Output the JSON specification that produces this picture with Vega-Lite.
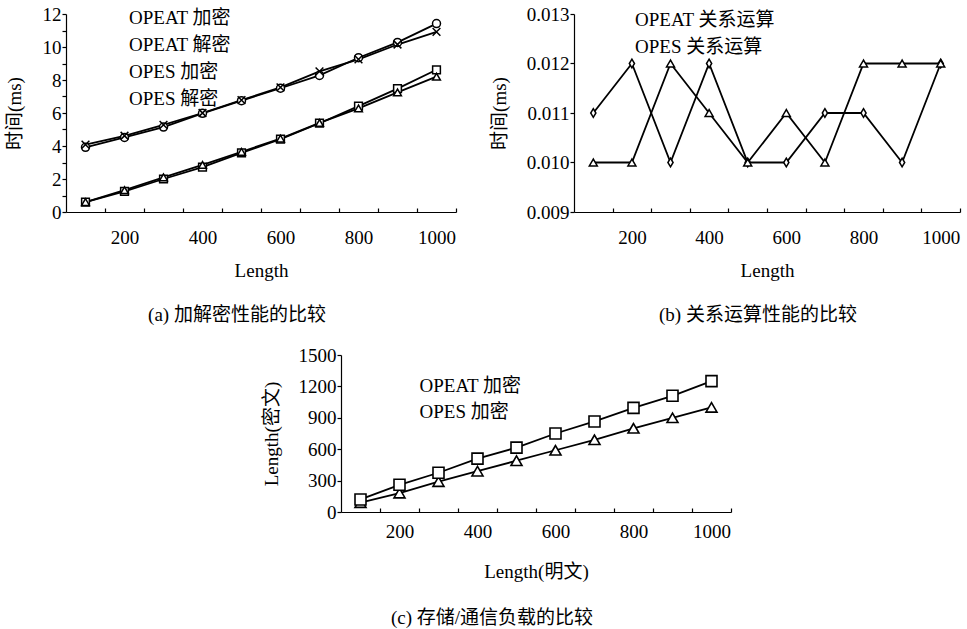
{
  "$schema": "https://vega.github.io/schema/vega-lite/v6.json",
  "padding": 5,
  "background": "white",
  "config": {
    "font": "Liberation Serif, Noto Sans CJK SC",
    "view": {"stroke": null},
    "axis": {
      "grid": false, "domainColor": "black", "tickColor": "black", "labelColor": "black", "titleColor": "black",
      "labelFont": "Liberation Serif, Noto Sans CJK SC", "titleFont": "Liberation Serif, Noto Sans CJK SC",
      "labelFontSize": 19, "titleFontSize": 19, "titleFontWeight": "normal", "domainWidth": 1.2, "tickWidth": 1.2,
      "labelOverlap": false
    },
    "axisY": {"labelOverlap": false},
    "legend": {"labelFont": "Liberation Serif, Noto Sans CJK SC", "labelFontSize": 19, "labelColor": "black", "padding": 0,
      "symbolFillColor": "white", "symbolStrokeColor": "black", "symbolStrokeWidth": 1.5, "symbolOpacity": 1},
    "title": {"font": "Liberation Serif, Noto Sans CJK SC", "fontSize": 19, "fontWeight": "normal", "color": "black", "frame": "group"},
    "point": {"filled": true, "fill": "white", "stroke": "black"}
  },
  "datasets": {
    "a": [
      {"length": 100, "series": "OPEAT 加密", "value": 0.6}, {"length": 200, "series": "OPEAT 加密", "value": 1.25},
      {"length": 300, "series": "OPEAT 加密", "value": 2.0}, {"length": 400, "series": "OPEAT 加密", "value": 2.72},
      {"length": 500, "series": "OPEAT 加密", "value": 3.58}, {"length": 600, "series": "OPEAT 加密", "value": 4.42},
      {"length": 700, "series": "OPEAT 加密", "value": 5.38}, {"length": 800, "series": "OPEAT 加密", "value": 6.42},
      {"length": 900, "series": "OPEAT 加密", "value": 7.48}, {"length": 1000, "series": "OPEAT 加密", "value": 8.62},
      {"length": 100, "series": "OPEAT 解密", "value": 0.6}, {"length": 200, "series": "OPEAT 解密", "value": 1.32},
      {"length": 300, "series": "OPEAT 解密", "value": 2.1}, {"length": 400, "series": "OPEAT 解密", "value": 2.85},
      {"length": 500, "series": "OPEAT 解密", "value": 3.65}, {"length": 600, "series": "OPEAT 解密", "value": 4.45},
      {"length": 700, "series": "OPEAT 解密", "value": 5.4}, {"length": 800, "series": "OPEAT 解密", "value": 6.28},
      {"length": 900, "series": "OPEAT 解密", "value": 7.25}, {"length": 1000, "series": "OPEAT 解密", "value": 8.2},
      {"length": 100, "series": "OPES 加密", "value": 3.92}, {"length": 200, "series": "OPES 加密", "value": 4.52},
      {"length": 300, "series": "OPES 加密", "value": 5.15}, {"length": 400, "series": "OPES 加密", "value": 5.98},
      {"length": 500, "series": "OPES 加密", "value": 6.75}, {"length": 600, "series": "OPES 加密", "value": 7.5},
      {"length": 700, "series": "OPES 加密", "value": 8.28}, {"length": 800, "series": "OPES 加密", "value": 9.35},
      {"length": 900, "series": "OPES 加密", "value": 10.28}, {"length": 1000, "series": "OPES 加密", "value": 11.42},
      {"length": 100, "series": "OPES 解密", "value": 4.08}, {"length": 200, "series": "OPES 解密", "value": 4.62},
      {"length": 300, "series": "OPES 解密", "value": 5.28}, {"length": 400, "series": "OPES 解密", "value": 6.0},
      {"length": 500, "series": "OPES 解密", "value": 6.78}, {"length": 600, "series": "OPES 解密", "value": 7.55},
      {"length": 700, "series": "OPES 解密", "value": 8.52}, {"length": 800, "series": "OPES 解密", "value": 9.25},
      {"length": 900, "series": "OPES 解密", "value": 10.15}, {"length": 1000, "series": "OPES 解密", "value": 10.92}
    ],
    "b": [
      {"length": 100, "series": "OPEAT 关系运算", "value": 0.011}, {"length": 200, "series": "OPEAT 关系运算", "value": 0.012},
      {"length": 300, "series": "OPEAT 关系运算", "value": 0.010}, {"length": 400, "series": "OPEAT 关系运算", "value": 0.012},
      {"length": 500, "series": "OPEAT 关系运算", "value": 0.010}, {"length": 600, "series": "OPEAT 关系运算", "value": 0.010},
      {"length": 700, "series": "OPEAT 关系运算", "value": 0.011}, {"length": 800, "series": "OPEAT 关系运算", "value": 0.011},
      {"length": 900, "series": "OPEAT 关系运算", "value": 0.010}, {"length": 1000, "series": "OPEAT 关系运算", "value": 0.012},
      {"length": 100, "series": "OPES 关系运算", "value": 0.010}, {"length": 200, "series": "OPES 关系运算", "value": 0.010},
      {"length": 300, "series": "OPES 关系运算", "value": 0.012}, {"length": 400, "series": "OPES 关系运算", "value": 0.011},
      {"length": 500, "series": "OPES 关系运算", "value": 0.010}, {"length": 600, "series": "OPES 关系运算", "value": 0.011},
      {"length": 700, "series": "OPES 关系运算", "value": 0.010}, {"length": 800, "series": "OPES 关系运算", "value": 0.012},
      {"length": 900, "series": "OPES 关系运算", "value": 0.012}, {"length": 1000, "series": "OPES 关系运算", "value": 0.012}
    ],
    "c": [
      {"length": 100, "series": "OPEAT 加密", "value": 90}, {"length": 200, "series": "OPEAT 加密", "value": 180},
      {"length": 300, "series": "OPEAT 加密", "value": 290}, {"length": 400, "series": "OPEAT 加密", "value": 390},
      {"length": 500, "series": "OPEAT 加密", "value": 490}, {"length": 600, "series": "OPEAT 加密", "value": 590},
      {"length": 700, "series": "OPEAT 加密", "value": 690}, {"length": 800, "series": "OPEAT 加密", "value": 800},
      {"length": 900, "series": "OPEAT 加密", "value": 900}, {"length": 1000, "series": "OPEAT 加密", "value": 1000},
      {"length": 100, "series": "OPES 加密", "value": 120}, {"length": 200, "series": "OPES 加密", "value": 260},
      {"length": 300, "series": "OPES 加密", "value": 375}, {"length": 400, "series": "OPES 加密", "value": 510},
      {"length": 500, "series": "OPES 加密", "value": 615}, {"length": 600, "series": "OPES 加密", "value": 750},
      {"length": 700, "series": "OPES 加密", "value": 865}, {"length": 800, "series": "OPES 加密", "value": 995},
      {"length": 900, "series": "OPES 加密", "value": 1110}, {"length": 1000, "series": "OPES 加密", "value": 1250}
    ]
  },
  "spacing": 21,
  "resolve": {"scale": {"shape": "independent", "x": "independent", "y": "independent"}, "legend": {"shape": "independent"}},
  "vconcat": [
    {
      "bounds": "flush",
      "spacing": 118,
      "resolve": {"scale": {"shape": "independent", "x": "independent", "y": "independent"}, "legend": {"shape": "independent"}},
      "hconcat": [
        {
          "width": 390, "height": 198,
          "data": {"name": "a"},
          "title": {"text": "(a)  加解密性能的比较", "orient": "bottom", "dx": -24, "offset": 26},
          "encoding": {
            "x": {"field": "length", "type": "quantitative", "scale": {"domain": [50, 1050], "nice": false, "zero": false},
              "axis": {"title": "Length", "values": [150, 250, 350, 450, 550, 650, 750, 850, 950, 1050],
                "labelExpr": "(datum.value + 50) % 200 === 0 ? format(datum.value + 50, 'd') : ''",
                "labelOffset": 19.5, "labelFlush": false, "labelOverlap": false, "tickSize": -4, "labelPadding": 20, "titlePadding": 14}},
            "y": {"field": "value", "type": "quantitative", "scale": {"domain": [0, 12], "nice": false, "zero": false},
              "axis": {"title": "时间(ms)", "values": [0, 1, 2, 3, 4, 5, 6, 7, 8, 9, 10, 11, 12], "labelOverlap": false,
                "labelExpr": "datum.value % 2 === 0 ? datum.label : ''", "tickSize": 4, "labelPadding": 1, "titlePadding": 18}}
          },
          "layer": [
            {"mark": {"type": "line", "color": "black", "strokeWidth": 1.8}, "encoding": {"detail": {"field": "series"}}},
            {
              "mark": {"type": "point", "size": 64, "strokeWidth": 1.5, "opacity": 0},
              "encoding": {
                "shape": {"field": "series", "type": "nominal",
                  "scale": {"domain": ["OPEAT 加密", "OPEAT 解密", "OPES 加密", "OPES 解密"],
                    "range": ["M-5.4,0H-1M1,0H5.4M-1,-1H1V1H-1Z", "M-5.4,0H-0.62M0.62,0H5.4M0,-1.1L1.1,0.8H-1.1Z", "M-5.4,0H-1M1,0H5.4M1,0A1,1,0,1,1,-1,0A1,1,0,1,1,1,0Z", "M-5.4,0H5.4M-1,-1L1,1M-1,1L1,-1"]},
                  "legend": {"title": null, "orient": "none", "legendX": 28.5, "legendY": -5.5, "symbolSize": 64, "symbolOpacity": 1,
                    "symbolFillColor": "white", "symbolStrokeColor": "black", "symbolStrokeWidth": 1.5,
                    "labelOffset": 15.5, "rowPadding": 7}}
              }
            },
            {"transform": [{"filter": "datum.series === 'OPEAT 加密'"}],
             "mark": {"type": "point", "shape": "square", "size": 60, "strokeWidth": 1.5, "opacity": 1}},
            {"transform": [{"filter": "datum.series === 'OPEAT 解密'"}],
             "mark": {"type": "point", "shape": "triangle-up", "size": 60, "strokeWidth": 1.5, "opacity": 1}},
            {"transform": [{"filter": "datum.series === 'OPES 加密'"}],
             "mark": {"type": "point", "shape": "circle", "size": 64, "strokeWidth": 1.5, "opacity": 1}},
            {"transform": [{"filter": "datum.series === 'OPES 解密'"}],
             "mark": {"type": "point", "shape": "M-1,-1L1,1M-1,1L1,-1", "size": 60, "strokeWidth": 1.5, "opacity": 1}}
          ]
        },
        {
          "width": 386, "height": 198,
          "data": {"name": "b"},
          "title": {"text": "(b)  关系运算性能的比较", "orient": "bottom", "dx": -9, "offset": 26},
          "encoding": {
            "x": {"field": "length", "type": "quantitative", "scale": {"domain": [50, 1050], "nice": false, "zero": false},
              "axis": {"title": "Length", "values": [150, 250, 350, 450, 550, 650, 750, 850, 950, 1050],
                "labelExpr": "(datum.value + 50) % 200 === 0 ? format(datum.value + 50, 'd') : ''",
                "labelOffset": 19.3, "labelFlush": false, "labelOverlap": false, "tickSize": -4, "labelPadding": 20, "titlePadding": 14}},
            "y": {"field": "value", "type": "quantitative", "scale": {"domain": [0.009, 0.013], "nice": false, "zero": false},
              "axis": {"title": "时间(ms)", "values": [0.009, 0.01, 0.011, 0.012, 0.013], "format": ".3f", "labelOverlap": false,
                "tickSize": 4, "labelPadding": 1, "titlePadding": 17}}
          },
          "layer": [
            {"mark": {"type": "line", "color": "black", "strokeWidth": 1.8}, "encoding": {"detail": {"field": "series"}}},
            {
              "mark": {"type": "point", "size": 64, "strokeWidth": 1.5, "opacity": 0},
              "encoding": {
                "shape": {"field": "series", "type": "nominal",
                  "scale": {"domain": ["OPEAT 关系运算", "OPES 关系运算"],
                    "range": ["M-5.3,0H-0.65M0.65,0H5.3M0,-1.1L0.65,0L0,1.1L-0.65,0Z", "M-5.3,0H-0.62M0.62,0H5.3M0,-1.1L1.1,0.8H-1.1Z"]},
                  "legend": {"title": null, "orient": "none", "legendX": 26, "legendY": -3.5, "symbolSize": 64, "symbolOpacity": 1,
                    "symbolFillColor": "white", "symbolStrokeColor": "black", "symbolStrokeWidth": 1.5,
                    "labelOffset": 16, "rowPadding": 7}}
              }
            },
            {"transform": [{"filter": "datum.series === 'OPEAT 关系运算'"}],
             "mark": {"type": "point", "shape": "M0,-1.1L0.65,0L0,1.1L-0.65,0Z", "size": 64, "strokeWidth": 1.5, "opacity": 1}},
            {"transform": [{"filter": "datum.series === 'OPES 关系运算'"}],
             "mark": {"type": "point", "shape": "triangle-up", "size": 64, "strokeWidth": 1.5, "opacity": 1}}
          ]
        }
      ]
    },
    {
      "bounds": "flush",
      "spacing": 0,
      "resolve": {"scale": {"shape": "independent", "x": "independent", "y": "independent"}, "legend": {"shape": "independent"}},
      "hconcat": [
        {"width": 275, "height": 157, "data": {"values": []}, "mark": "point"},
        {
          "width": 390, "height": 157,
          "data": {"name": "c"},
          "title": {"text": "(c)  存储/通信负载的比较", "orient": "bottom", "dx": -44, "offset": 28},
          "encoding": {
            "x": {"field": "length", "type": "quantitative", "scale": {"domain": [50, 1050], "nice": false, "zero": false},
              "axis": {"title": "Length(明文)", "values": [150, 250, 350, 450, 550, 650, 750, 850, 950, 1050],
                "labelExpr": "(datum.value + 50) % 200 === 0 ? format(datum.value + 50, 'd') : ''",
                "labelOffset": 19.5, "labelFlush": false, "labelOverlap": false, "tickSize": -4, "labelPadding": 14, "titlePadding": 21}},
            "y": {"field": "value", "type": "quantitative", "scale": {"domain": [0, 1500], "nice": false, "zero": false},
              "axis": {"title": "Length(密文)", "values": [0, 300, 600, 900, 1200, 1500], "format": "d", "labelOverlap": false,
                "tickSize": 4, "labelPadding": 1, "titlePadding": 17}}
          },
          "layer": [
            {"mark": {"type": "line", "color": "black", "strokeWidth": 1.8}, "encoding": {"detail": {"field": "series"}}},
            {
              "mark": {"type": "point", "size": 81, "strokeWidth": 1.5, "opacity": 0},
              "encoding": {
                "shape": {"field": "series", "type": "nominal",
                  "scale": {"domain": ["OPEAT 加密", "OPES 加密"],
                    "range": ["M-4.9,0H-0.62M0.62,0H4.9M0,-1.1L1.1,0.8H-1.1Z", "M-4.9,0H-1M1,0H4.9M-1,-1H1V1H-1Z"]},
                  "legend": {"title": null, "orient": "none", "legendX": 43, "legendY": 21.5, "symbolSize": 81, "symbolOpacity": 1,
                    "symbolFillColor": "white", "symbolStrokeColor": "black", "symbolStrokeWidth": 1.5,
                    "labelOffset": 16.5, "rowPadding": 6}}
              }
            },
            {"transform": [{"filter": "datum.series === 'OPEAT 加密'"}],
             "mark": {"type": "point", "shape": "triangle-up", "size": 121, "strokeWidth": 1.6, "opacity": 1}},
            {"transform": [{"filter": "datum.series === 'OPES 加密'"}],
             "mark": {"type": "point", "shape": "square", "size": 121, "strokeWidth": 1.6, "opacity": 1}}
          ]
        }
      ]
    }
  ]
}
